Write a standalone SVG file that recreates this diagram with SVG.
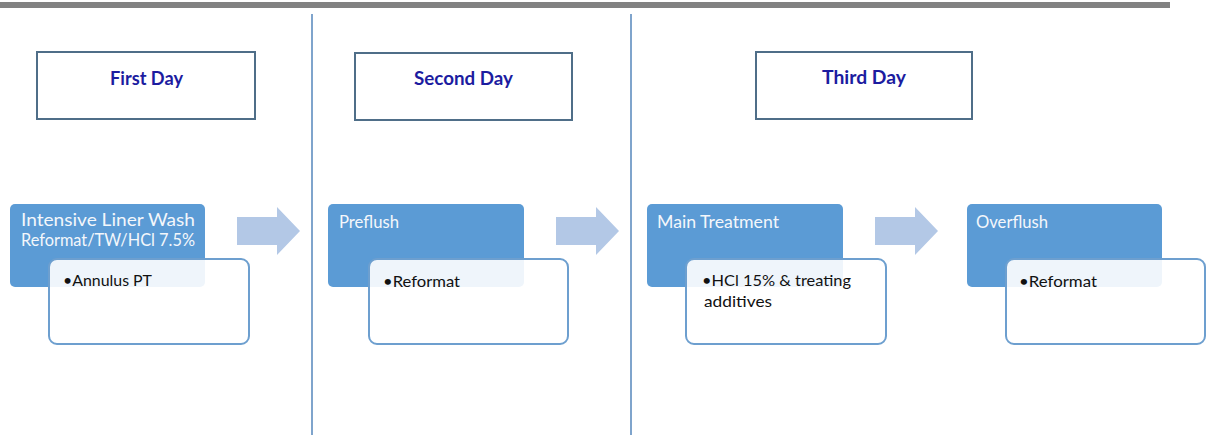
<svg xmlns="http://www.w3.org/2000/svg" width="1208" height="435" viewBox="0 0 1208 435">
<style>
.day{fill:#fff;stroke:#4f6e88;stroke-width:2}
.dayt{font-family:Lato,"Open Sans",sans-serif;font-weight:bold;font-size:18px;fill:#1c1ca0}
.blue{fill:#5b9bd5}
.wht{fill:#fff;fill-opacity:0.9;stroke:#6d9fcf;stroke-width:2}
.bt{font-family:Lato,"Open Sans",sans-serif;font-size:16.5px;fill:#f4f7fb}
.wt{font-family:Lato,"Open Sans",sans-serif;font-size:16px;fill:#111}
.sep{stroke:#7fa4cc;stroke-width:2}
.arr{fill:#b3c8e6}
</style>
<rect x="0" y="2" width="1170" height="6" fill="#828282"/>
<g id="separators">
<line class="sep" x1="312" y1="14" x2="312" y2="435"/>
<line class="sep" x1="631" y1="14" x2="631" y2="435"/>
</g>
<g id="day1"><rect class="day" x="37" y="52" width="218" height="67"/><text class="dayt" x="110" y="85" textLength="73" lengthAdjust="spacingAndGlyphs">First Day</text></g>
<g id="day2"><rect class="day" x="355" y="53" width="217" height="67"/><text class="dayt" x="414" y="85" textLength="99" lengthAdjust="spacingAndGlyphs">Second Day</text></g>
<g id="day3"><rect class="day" x="756" y="52" width="216" height="67"/><text class="dayt" x="822" y="84" textLength="84" lengthAdjust="spacingAndGlyphs">Third Day</text></g>
<g id="connectors">
<polygon class="arr" points="237,217 277,217 277,207 300,231 277,255 277,245 237,245"/>
<polygon class="arr" points="556,217 596,217 596,207 619,231 596,255 596,245 556,245"/>
<polygon class="arr" points="875,217 915,217 915,207 938,231 915,255 915,245 875,245"/>
</g>
<g id="step1">
<rect class="blue" x="10" y="204" width="195" height="83" rx="5"/>
<text class="bt" x="21" y="226" textLength="174" lengthAdjust="spacingAndGlyphs">Intensive Liner Wash</text>
<text class="bt" x="21" y="246" textLength="174" lengthAdjust="spacingAndGlyphs">Reformat/TW/HCl 7.5%</text>
<rect class="wht" x="49" y="259" width="200" height="85" rx="8"/>
<text class="wt" x="63" y="286" textLength="89" lengthAdjust="spacingAndGlyphs">•Annulus PT</text>
</g>
<g id="step2">
<rect class="blue" x="328" y="204" width="196" height="83" rx="5"/>
<text class="bt" x="339" y="228" textLength="60" lengthAdjust="spacingAndGlyphs">Preflush</text>
<rect class="wht" x="369" y="259" width="199" height="85" rx="8"/>
<text class="wt" x="383" y="287" textLength="77" lengthAdjust="spacingAndGlyphs">•Reformat</text>
</g>
<g id="step3">
<rect class="blue" x="647" y="204" width="196" height="83" rx="5"/>
<text class="bt" x="657" y="228" textLength="122" lengthAdjust="spacingAndGlyphs">Main Treatment</text>
<rect class="wht" x="686" y="259" width="200" height="85" rx="8"/>
<text class="wt" x="702" y="286" textLength="149" lengthAdjust="spacingAndGlyphs">•HCl 15% &amp; treating</text>
<text class="wt" x="704" y="307" textLength="68" lengthAdjust="spacingAndGlyphs">additives</text>
</g>
<g id="step4">
<rect class="blue" x="967" y="204" width="195" height="83" rx="5"/>
<text class="bt" x="976" y="228" textLength="72" lengthAdjust="spacingAndGlyphs">Overflush</text>
<rect class="wht" x="1006" y="259" width="199" height="85" rx="8"/>
<text class="wt" x="1019" y="287" textLength="78" lengthAdjust="spacingAndGlyphs">•Reformat</text>
</g>
</svg>
